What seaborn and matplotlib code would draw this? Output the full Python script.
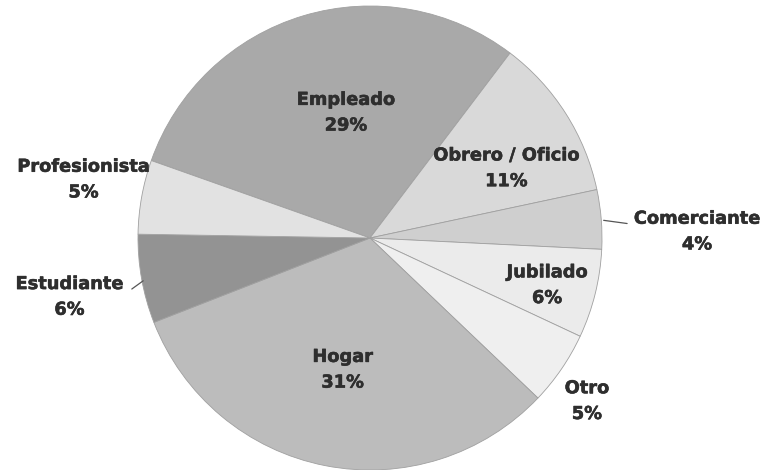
import numpy as np
import seaborn as sns
import matplotlib.pyplot as plt
import matplotlib.patheffects as pe

# ===================== DATA =====================

categories = ['Empleado', 'Obrero / Oficio', 'Comerciante', 'Jubilado', 'Otro', 'Hogar', 'Estudiante', 'Profesionista']
percentages = [29, 11, 4, 6, 5, 31, 6, 5]

# ===================== STYLE =====================

slice_colors = ['#a9a9a9', '#d9d9d9', '#cfcfcf', '#ebebeb', '#efefef', '#bcbcbc', '#939393', '#e2e2e2']
# label placement: distance from centre (in radii) and angle shift from the wedge middle (deg)
label_radius = [0.55, 0.66, 1.41, 0.79, 1.17, 0.58, 1.32, 1.26]
label_shift = [-5.8, -5.4, -3.5, -1.0, -2.6, -0.6, 0.9, -1.3]
# leader lines: (r_start, shift_start, r_end, shift_end) or None
leader_line = [None, None, (1.01, -0.3, 1.11, -1.4), None, None, None, (0.995, 0.5, 1.05, 1.9), None]

sns.set_theme(style='white')
plt.rcParams['font.family'] = ['DejaVu Sans']

fig = plt.figure(figsize=(7.7, 4.7), dpi=100)
fig.patch.set_facecolor('white')

# pie centre at (370, 238) px, radius ~232 px
cx, cy, r = 370, 238, 232
ax = fig.add_axes([(cx - r) / 770, (470 - cy - r) / 470, 2 * r / 770, 2 * r / 470])

wedges, _ = ax.pie(percentages, colors=slice_colors, startangle=160.5, counterclock=False,
                   wedgeprops={'edgecolor': '#a0a0a0', 'linewidth': 0.6})
ax.set_xlim(-1, 1)
ax.set_ylim(-1, 1)
ax.set_aspect('equal')
ax.axis('off')

# slightly heavier lettering, like the scanned original
heavy = [pe.withStroke(linewidth=0.4, foreground='#2e2e2e')]

for wedge, name, pct, dist, shift, lead in zip(wedges, categories, percentages, label_radius, label_shift, leader_line):
    mid = (wedge.theta1 + wedge.theta2) / 2
    ang = np.deg2rad(mid + shift)
    ax.text(dist * np.cos(ang), dist * np.sin(ang), f'{name}\n{pct}%', ha='center', va='center',
            fontsize=12.8, fontweight='bold', color='#2e2e2e', linespacing=1.55, clip_on=False,
            path_effects=heavy)
    if lead:
        r0, s0, r1, s1 = lead
        a0, a1 = np.deg2rad(mid + s0), np.deg2rad(mid + s1)
        ax.plot([r0 * np.cos(a0), r1 * np.cos(a1)], [r0 * np.sin(a0), r1 * np.sin(a1)],
                color='#555555', linewidth=0.9, clip_on=False)

fig.savefig('out.png', dpi=100, facecolor='white')
